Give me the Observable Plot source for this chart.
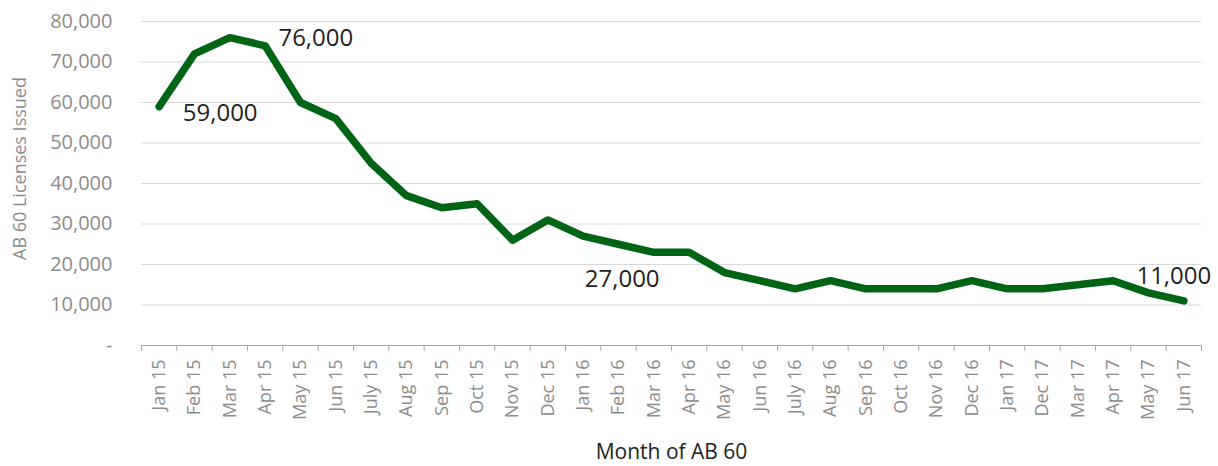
<!DOCTYPE html>
<html>
<head>
<meta charset="utf-8">
<script src="https://cdn.jsdelivr.net/npm/d3@7"></script>
<script src="https://cdn.jsdelivr.net/npm/@observablehq/plot@0.6"></script>
<style>
  html, body { margin: 0; padding: 0; background: #fff; }
  #chart svg { font-family: "Open Sans", sans-serif; }
</style>
</head>
<body>
<div id="chart"></div>
<script>
const months = ["Jan 15","Feb 15","Mar 15","Apr 15","May 15","Jun 15","July 15","Aug 15","Sep 15","Oct 15","Nov 15","Dec 15",
  "Jan 16","Feb 16","Mar 16","Apr 16","May 16","Jun 16","July 16","Aug 16","Sep 16","Oct 16","Nov 16","Dec 16",
  "Jan 17","Dec 17","Mar 17","Apr 17","May 17","Jun 17"];
const licenses = [59000,72000,76000,74000,60000,56000,45000,37000,34000,35000,26000,31000,
  27000,25000,23000,23000,18000,16000,14000,16000,14000,14000,14000,16000,
  14000,14000,15000,16000,13000,11000];
const yTicks = [0,10000,20000,30000,40000,50000,60000,70000,80000];
const annMonths = ["Jan 15","Mar 15","Jan 16","Jun 17"];
const annValues = [59000,76000,27000,11000];
const annLabels = ["59,000","76,000","27,000","11,000"];

const data = months.map((m, i) => ({month: m, value: licenses[i]}));
const ann = annMonths.map((m, i) => ({month: m, value: annValues[i], label: annLabels[i]}));

const W = 1218, H = 466, ML = 141, MR = 17, MT = 21, MB = 121;
const step = (W - ML - MR) / months.length;
const offsets = [{dx: 61, dy: 7}, {dx: 86, dy: 1}, {dx: 39, dy: 43}, {dx: -10, dy: -25}];
const gray = "#8c8c8c";

const chart = Plot.plot({
  width: W, height: H,
  marginLeft: ML, marginRight: MR, marginTop: MT, marginBottom: MB,
  style: {fontFamily: "Open Sans, sans-serif", background: "#fff", overflow: "visible"},
  x: {type: "band", domain: months, padding: 0, round: false},
  y: {domain: [0, 80000]},
  marks: [
    Plot.gridY(yTicks.filter(d => d > 0), {stroke: "#d9d9d9", strokeOpacity: 1, strokeWidth: 1}),
    Plot.ruleY([0], {stroke: "#a6a6a6", strokeWidth: 1}),
    Plot.axisY(yTicks, {
      tickSize: 0, tickPadding: 29, fontSize: 20, fill: gray,
      tickFormat: d => d === 0 ? "-" : d3.format(",")(d),
      label: null
    }),
    Plot.text(["AB 60 Licenses Issued"], {
      frameAnchor: "left", textAnchor: "middle", dx: -121, dy: -15, rotate: -90,
      fontSize: 18, fill: gray
    }),
    Plot.axisX(months, {tickSize: 6, text: null, stroke: "#a6a6a6", dx: -step / 2, label: null}),
    Plot.axisX([months[months.length - 1]], {tickSize: 6, text: null, stroke: "#a6a6a6", dx: step / 2, label: null}),
    Plot.axisX(months, {
      tickSize: 0, tickPadding: 14, tickRotate: -90, fontSize: 18, fill: gray,
      label: null
    }),
    Plot.text(["Month of AB 60"], {
      frameAnchor: "bottom", dy: 113, fontSize: 21, fill: "#222"
    }),
    Plot.line(data, {
      x: "month", y: "value", stroke: "#006414", strokeWidth: 7.5,
      strokeLinejoin: "round", strokeLinecap: "round"
    }),
    ...ann.map((d, i) => Plot.text([d], {
      x: "month", y: "value", text: "label",
      dx: offsets[i].dx, dy: offsets[i].dy,
      fontSize: 24, fill: "#1f1f1f"
    }))
  ]
});
document.getElementById("chart").appendChild(chart);
</script>
</body>
</html>
